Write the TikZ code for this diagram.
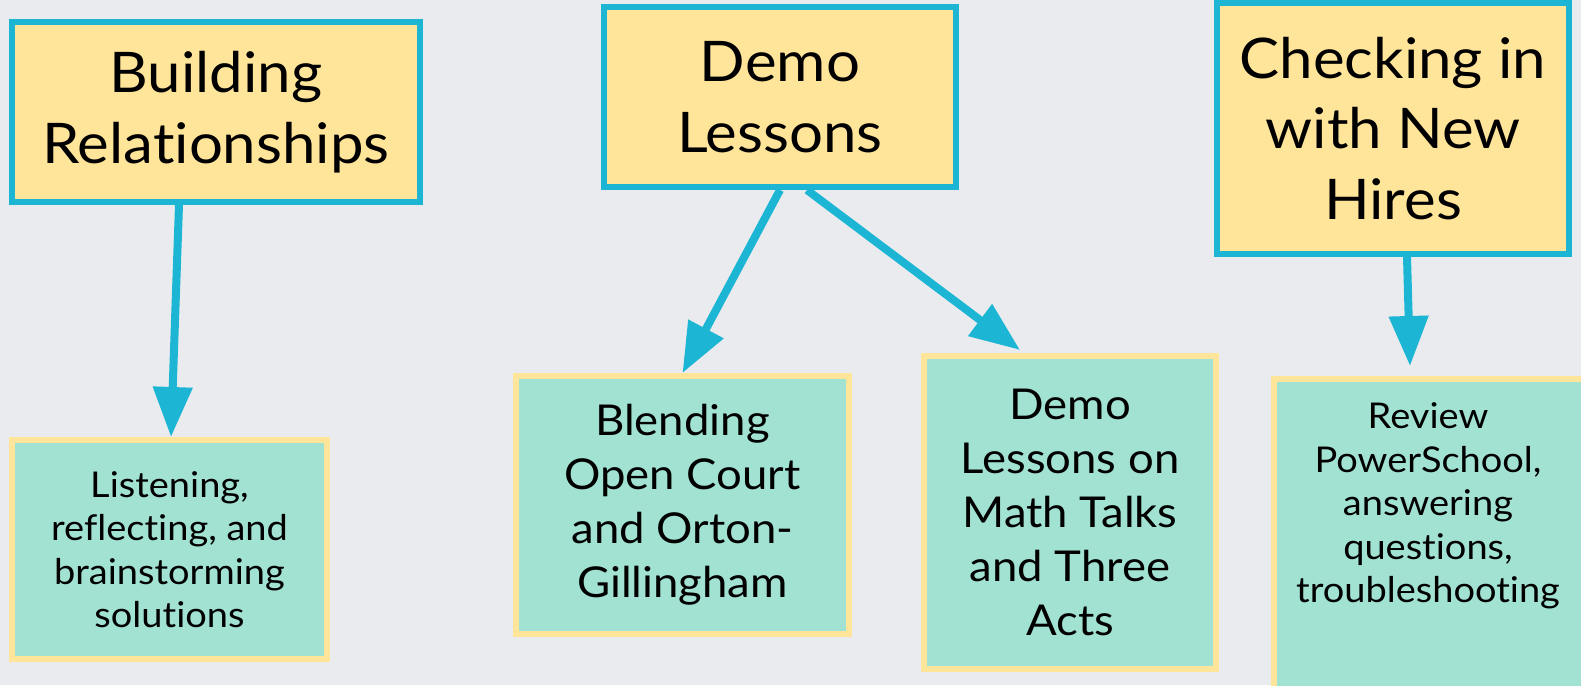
\documentclass[tikz,border=0pt]{standalone}
\usepackage{fontspec}
\setmainfont[Ligatures={NoCommon,NoRare,NoContextual},FakeStretch=1.07]{Lato}
\usetikzlibrary{arrows.meta,calc}
\definecolor{bgc}{HTML}{E9EBEF}
\definecolor{cyanc}{HTML}{1CB6D4}
\definecolor{yelc}{HTML}{FFE59A}
\definecolor{tealc}{HTML}{A2E2D3}
\tikzset{
  headbox/.style={draw=cyanc, line width=6pt, fill=yelc, align=center, inner sep=0pt,
    font=\fontsize{56pt}{70.5pt}\selectfont},
  kidbox/.style={draw=yelc, line width=6pt, fill=tealc, align=center, inner sep=0pt},
  bigkid/.style={font=\fontsize{42.5pt}{54pt}\selectfont},
  smallkid/.style={font=\fontsize{35.5pt}{43.5pt}\selectfont},
  conn/.style={draw=cyanc, line width=8pt, -{Triangle[length=50pt,width=38pt]}}
}
\begin{document}
\begin{tikzpicture}[x=1pt,y=-1pt]
\useasboundingbox (0,0) rectangle (1581,685);
\fill[bgc] (0,0) rectangle (1581,685);
\clip (0,0) rectangle (1581,685);
% head boxes
\node[headbox, minimum width=408pt, minimum height=180pt] (b1) at (216,112) {Building\\Relationships};
\node[headbox, minimum width=352pt, minimum height=180pt] (b2) at (780,97) {Demo\\Lessons};
\node[headbox, minimum width=352pt, minimum height=251pt] (b3) at (1393,128.5) {Checking in\\with New\\Hires};
% child boxes
\node[kidbox, smallkid, minimum width=315pt, minimum height=219pt] (c1) at (169.5,549.5) {Listening,\\reflecting, and\\brainstorming\\solutions};
\node[kidbox, bigkid, minimum width=333pt, minimum height=258pt] (c2) at (682.5,505) {Blending\\Open Court\\and Orton-\\Gillingham};
\node[kidbox, bigkid, minimum width=292pt, minimum height=313pt] (c3) at (1070,512.5) {Demo\\Lessons on\\Math Talks\\and Three\\Acts};
\node[kidbox, minimum width=314pt, minimum height=330pt, anchor=north west] (c4) at (1271,376) {};
\node[smallkid, align=center, inner sep=0pt] (c4t) at (1428,506) {Review\\PowerSchool,\\answering\\questions,\\troubleshooting};
% connectors
\draw[conn] ([xshift=-37pt]b1.south) -- ([xshift=1.5pt]c1.north);
\draw[conn] (b2.south) -- (c2.north);
\draw[conn] ([xshift=27pt]b2.south) -- ([xshift=-50pt,yshift=3pt]c3.north);
\draw[conn] ([xshift=14pt]b3.south) -- ([xshift=-21pt,yshift=10pt]c4.north);
\end{tikzpicture}
\end{document}
